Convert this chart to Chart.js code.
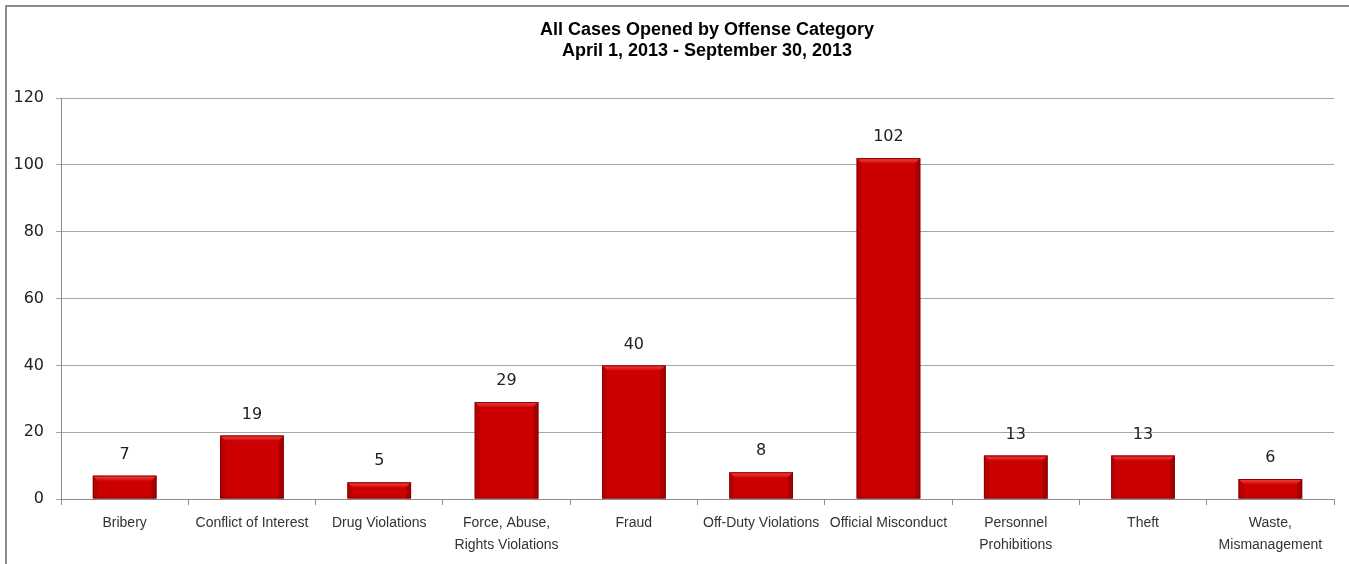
<!DOCTYPE html>
<html>
<head>
<meta charset="utf-8">
<title>All Cases Opened by Offense Category</title>
<script src="https://cdn.jsdelivr.net/npm/chart.js@4.4.1/dist/chart.umd.min.js"></script>
<style>
  html, body { margin: 0; padding: 0; background: #fff; }
  #wrap { position: relative; width: 1349px; height: 564px; }
</style>
</head>
<body>
<div id="wrap"><canvas id="casesChart"></canvas></div>
<script>
const titleLines = ['All Cases Opened by Offense Category', 'April 1, 2013 - September 30, 2013'];

const categories = [
    'Bribery',
    'Conflict of Interest',
    'Drug Violations',
    ['Force, Abuse,', 'Rights Violations'],
    'Fraud',
    'Off-Duty Violations',
    'Official Misconduct',
    ['Personnel', 'Prohibitions'],
    'Theft',
    ['Waste,', 'Mismanagement']
];
const casesOpened = [7, 19, 5, 29, 40, 8, 102, 13, 13, 6];

const yMin = 0;
const yMax = 120;
const yStep = 20;

const tickFont = "'DejaVu Sans', sans-serif";
const narrowFont = "'Liberation Sans Narrow', 'Arial Narrow', 'Liberation Sans', sans-serif";

// frame + title drawn by hand so the title can sit off-centre like the original
const framePlugin = {
    id: 'frame',
    beforeDraw(chart) {
        const ctx = chart.ctx;
        ctx.save();
        ctx.strokeStyle = '#8c8c8c';
        ctx.lineWidth = 2;
        ctx.beginPath();
        ctx.moveTo(6, chart.height);
        ctx.lineTo(6, 6);
        ctx.lineTo(chart.width, 6);
        ctx.stroke();

        ctx.fillStyle = '#000';
        ctx.font = "bold 18px 'Liberation Sans', Arial, sans-serif";
        ctx.textAlign = 'center';
        ctx.textBaseline = 'alphabetic';
        ctx.fillText(titleLines[0], 707, 35);
        ctx.fillText(titleLines[1], 707, 56);
        ctx.restore();
    }
};

// bevel look on the bars + value labels above them
const barDecor = {
    id: 'barDecor',
    afterDatasetsDraw(chart) {
        const ctx = chart.ctx;
        const meta = chart.getDatasetMeta(0);
        ctx.save();
        meta.data.forEach((bar, i) => {
            const left = bar.x - bar.width / 2;
            const right = bar.x + bar.width / 2;
            const top = bar.y;
            const h = bar.base - bar.y;
            const bev = Math.min(5, h / 3);

            // lighter top strip
            const g = ctx.createLinearGradient(0, top, 0, top + bev);
            g.addColorStop(0, '#f04848');
            g.addColorStop(1, '#d40a0a');
            ctx.fillStyle = g;
            ctx.beginPath();
            ctx.moveTo(left, top);
            ctx.lineTo(right, top);
            ctx.lineTo(right - bev, top + bev);
            ctx.lineTo(left + bev, top + bev);
            ctx.closePath();
            ctx.fill();

            // darker sides
            ctx.fillStyle = 'rgba(120, 0, 0, 0.45)';
            ctx.beginPath();
            ctx.moveTo(right, top);
            ctx.lineTo(right, bar.base);
            ctx.lineTo(right - bev, bar.base);
            ctx.lineTo(right - bev, top + bev);
            ctx.closePath();
            ctx.fill();
            ctx.fillStyle = 'rgba(120, 0, 0, 0.25)';
            ctx.beginPath();
            ctx.moveTo(left, top);
            ctx.lineTo(left + bev, top + bev);
            ctx.lineTo(left + bev, bar.base);
            ctx.lineTo(left, bar.base);
            ctx.closePath();
            ctx.fill();

            ctx.strokeStyle = '#8a0000';
            ctx.lineWidth = 1;
            ctx.strokeRect(left + 0.5, top + 0.5, bar.width - 1, h - 1);

            ctx.fillStyle = '#222';
            ctx.font = '16px ' + tickFont;
            ctx.textAlign = 'center';
            ctx.textBaseline = 'middle';
            ctx.fillText(String(casesOpened[i]), bar.x, top - 21);
        });
        ctx.restore();
    }
};

new Chart(document.getElementById('casesChart'), {
    type: 'bar',
    data: {
        labels: categories,
        datasets: [{
            label: 'Cases Opened',
            data: casesOpened,
            backgroundColor: '#cc0000',
            borderWidth: 0,
            barPercentage: 0.5,
            categoryPercentage: 1.0
        }]
    },
    options: {
        responsive: true,
        maintainAspectRatio: false,
        animation: false,
        layout: {
            padding: { top: 98, right: 15, bottom: 1, left: 5 }
        },
        plugins: {
            legend: { display: false },
            title: { display: false },
            tooltip: { enabled: false }
        },
        scales: {
            x: {
                grid: {
                    display: true,
                    drawOnChartArea: false,
                    drawTicks: true,
                    tickLength: 6,
                    color: '#8c8c8c',
                    offset: true
                },
                border: { color: '#8c8c8c' },
                ticks: {
                    color: '#333',
                    font: { family: narrowFont, size: 14, lineHeight: 1.57 },
                    maxRotation: 0,
                    autoSkip: false,
                    padding: 7
                }
            },
            y: {
                min: yMin,
                max: yMax,
                grid: {
                    color: '#a6a6a6',
                    tickLength: 5,
                    drawTicks: true
                },
                border: { color: '#8c8c8c' },
                ticks: {
                    stepSize: yStep,
                    color: '#222',
                    font: { family: tickFont, size: 16 },
                    padding: 12
                },
                afterFit(scale) {
                    scale.width = 56;
                }
            }
        }
    },
    plugins: [framePlugin, barDecor]
});
</script>
</body>
</html>
